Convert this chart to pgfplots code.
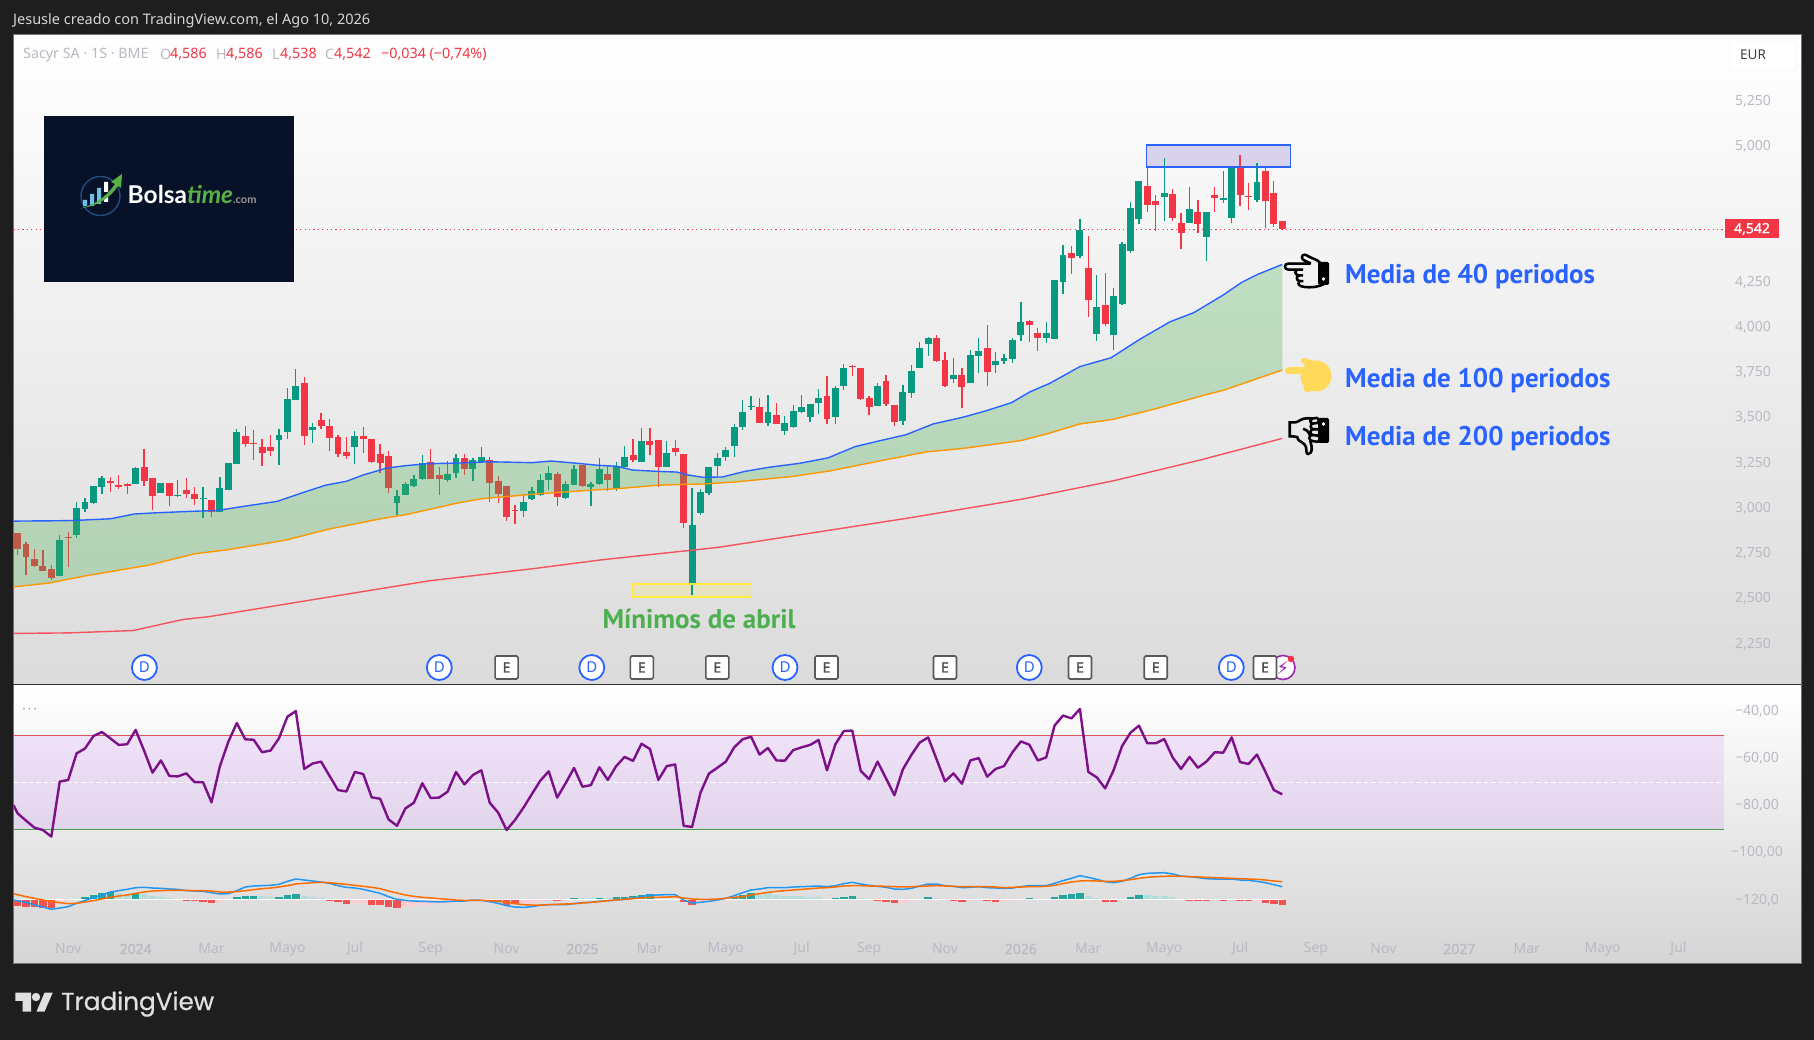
\documentclass[border=0pt]{standalone}
\usepackage{fontspec}
\setmainfont{Noto Sans}
\newfontfamily\labfont{PT Sans}
\newfontfamily\tvfont[FakeBold=0.6]{Poppins}
\newfontfamily\emojifont[FakeBold=3]{Noto Emoji}
\newfontfamily\symfont{DejaVu Sans}
\newfontfamily\logofont{Lato}
\newfontfamily\boldn[FakeBold=1.2]{Noto Sans}
\usepackage{pgfplots}
\usepackage{pgfplotstable}
\pgfplotsset{compat=1.18}
\definecolor{bgdark}{HTML}{1E1E1E}
\definecolor{cg}{HTML}{089981}
\definecolor{cr}{HTML}{F23645}
\definecolor{tk}{HTML}{B8BAC4}
\definecolor{mab}{HTML}{2962FF}
\definecolor{mao}{HTML}{FF9800}
\definecolor{mar}{HTML}{F7525F}
\definecolor{pur}{HTML}{7B1088}
\definecolor{hsr}{HTML}{F25252}
\definecolor{hsp}{HTML}{FFCDD2}
\definecolor{hsg}{HTML}{26A69A}
\definecolor{hsl}{HTML}{B2DFDB}
\definecolor{fillg}{HTML}{4CAF50}
\definecolor{bandf}{HTML}{BA64FD}
\definecolor{bandt}{HTML}{E2525A}
\definecolor{bandb}{HTML}{4CA050}
\definecolor{mcdb}{HTML}{2196F3}
\definecolor{mcdo}{HTML}{FF6D00}
\definecolor{logobg}{HTML}{071229}
\definecolor{logoc}{HTML}{234B7D}
\definecolor{logob}{HTML}{6EBEE6}
\definecolor{logog}{HTML}{5AAF46}
\definecolor{boltc}{HTML}{9C27B0}
\definecolor{yel}{HTML}{FFD95A}
\definecolor{zonev}{HTML}{D9D2EC}
\definecolor{zoney}{HTML}{FFEB3B}
\pgfplotstableread{
i t b h l
0 2.863 2.775 2.863 2.742
1 2.802 2.730 2.815 2.631
2 2.719 2.681 2.775 2.675
3 2.681 2.653 2.769 2.653
4 2.664 2.614 2.686 2.603
6 2.841 2.836 2.869 2.675
11 3.151 3.140 3.173 3.090
12 3.128 3.117 3.184 3.106
13 3.134 3.123 3.140 3.079
15 3.228 3.151 3.327 3.123
16 3.167 3.068 3.167 2.990
18 3.140 3.068 3.140 3.012
20 3.101 3.079 3.167 3.057
21 3.079 3.051 3.117 3.018
23 3.046 2.979 3.046 2.952
27 3.399 3.355 3.455 3.339
28 3.361 3.355 3.432 3.267
29 3.339 3.305 3.383 3.234
30 3.339 3.316 3.405 3.289
34 3.692 3.399 3.725 3.350
36 3.488 3.455 3.526 3.438
37 3.455 3.388 3.493 3.316
38 3.394 3.300 3.405 3.283
39 3.311 3.289 3.394 3.272
41 3.399 3.383 3.449 3.305
42 3.383 3.256 3.383 3.250
43 3.300 3.250 3.355 3.195
44 3.289 3.112 3.316 3.084
49 3.256 3.162 3.327 3.162
50 3.184 3.162 3.228 3.073
53 3.278 3.217 3.300 3.184
56 3.267 3.140 3.283 3.034
57 3.151 3.079 3.178 3.029
58 3.123 2.952 3.123 2.929
59 2.990 2.985 3.018 2.913
64 3.189 3.062 3.200 3.012
67 3.239 3.123 3.239 3.117
70 3.189 3.156 3.239 3.095
73 3.294 3.267 3.383 3.256
75 3.372 3.350 3.444 3.294
76 3.377 3.228 3.377 3.117
78 3.333 3.311 3.377 3.289
79 3.300 2.918 3.300 2.891
88 3.560 3.471 3.609 3.471
90 3.515 3.466 3.582 3.466
96 3.620 3.493 3.731 3.466
99 3.786 3.783 3.790 3.731
100 3.775 3.604 3.775 3.598
101 3.609 3.560 3.620 3.515
103 3.703 3.576 3.737 3.565
104 3.571 3.477 3.571 3.455
109 3.941 3.814 3.958 3.808
110 3.819 3.676 3.864 3.670
112 3.737 3.670 3.775 3.554
115 3.886 3.753 4.013 3.676
120 4.035 4.013 4.041 3.919
121 3.969 3.941 3.996 3.869
125 4.411 4.383 4.450 4.295
127 4.328 4.151 4.505 4.057
129 4.124 4.019 4.301 4.008
134 4.781 4.676 4.892 4.638
135 4.699 4.676 4.732 4.533
137 4.737 4.605 4.765 4.588
138 4.577 4.522 4.632 4.433
140 4.638 4.571 4.704 4.522
142 4.732 4.715 4.776 4.638
145 4.892 4.732 4.953 4.671
146 4.726 4.721 4.798 4.649
148 4.864 4.699 4.892 4.549
149 4.743 4.571 4.809 4.555
150 4.586 4.542 4.586 4.538
}\redc
\pgfplotstableread{
i t b h l
5 2.824 2.625 2.852 2.625
7 3.001 2.852 3.034 2.836
8 3.034 2.996 3.057 2.979
9 3.123 3.029 3.123 3.023
10 3.167 3.117 3.178 3.079
14 3.222 3.134 3.228 3.134
17 3.140 3.084 3.140 3.084
19 3.073 3.068 3.156 3.062
22 3.057 3.051 3.117 2.946
24 3.112 2.979 3.173 2.979
25 3.250 3.101 3.250 3.101
26 3.421 3.245 3.438 3.245
31 3.405 3.377 3.438 3.239
32 3.604 3.421 3.665 3.383
33 3.676 3.598 3.770 3.598
35 3.449 3.432 3.471 3.361
40 3.399 3.339 3.427 3.245
45 3.068 3.029 3.101 2.963
46 3.134 3.073 3.145 3.073
47 3.162 3.123 3.184 3.117
48 3.250 3.162 3.294 3.156
51 3.189 3.156 3.261 3.145
52 3.278 3.195 3.300 3.167
54 3.267 3.217 3.278 3.151
55 3.283 3.256 3.339 3.256
60 3.034 2.985 3.079 2.952
61 3.095 3.051 3.117 3.046
62 3.156 3.073 3.189 3.068
63 3.195 3.156 3.234 3.101
65 3.134 3.057 3.151 3.051
66 3.217 3.128 3.239 3.128
68 3.134 3.117 3.145 3.012
69 3.217 3.134 3.278 3.128
71 3.234 3.106 3.256 3.095
72 3.283 3.228 3.344 3.228
74 3.372 3.256 3.444 3.256
77 3.305 3.228 3.372 3.228
80 2.907 2.576 3.112 2.520
81 3.090 2.974 3.106 2.963
82 3.228 3.084 3.228 3.073
83 3.278 3.234 3.305 3.178
84 3.322 3.283 3.339 3.261
85 3.449 3.344 3.466 3.283
86 3.532 3.449 3.598 3.432
87 3.565 3.560 3.620 3.543
89 3.532 3.471 3.626 3.455
91 3.471 3.427 3.510 3.405
92 3.538 3.449 3.571 3.444
93 3.560 3.532 3.626 3.526
94 3.576 3.504 3.576 3.477
95 3.609 3.582 3.659 3.521
97 3.665 3.504 3.676 3.466
98 3.775 3.676 3.797 3.654
102 3.676 3.565 3.692 3.565
105 3.643 3.482 3.681 3.460
106 3.759 3.637 3.792 3.609
107 3.886 3.775 3.919 3.775
108 3.941 3.908 3.948 3.842
111 3.737 3.714 3.830 3.692
113 3.847 3.692 3.875 3.692
114 3.869 3.842 3.941 3.748
116 3.814 3.792 3.864 3.748
117 3.831 3.814 3.853 3.798
118 3.930 3.825 3.941 3.803
119 4.030 3.958 4.140 3.925
122 3.969 3.941 4.030 3.914
123 4.262 3.936 4.262 3.936
124 4.400 4.251 4.455 4.184
126 4.538 4.395 4.599 4.383
128 4.113 3.963 4.289 3.925
130 4.173 3.958 4.218 3.875
131 4.461 4.129 4.472 4.124
132 4.660 4.422 4.693 4.411
133 4.809 4.599 4.809 4.571
136 4.743 4.721 4.936 4.588
139 4.654 4.577 4.776 4.577
141 4.638 4.500 4.638 4.367
143 4.715 4.704 4.864 4.687
144 4.892 4.605 4.898 4.577
147 4.804 4.704 4.909 4.693
}\greenc
\pgfplotstableread{
i v
-0.49 2.929
5.08 2.931
7 2.933
11.07 2.942
13.8 2.968
16.07 2.974
20.6 2.983
23.8 2.988
26.05 3.005
30.8 3.038
33.8 3.086
36.5 3.127
39 3.149
41 3.184
43.76 3.222
46 3.235
48.5 3.246
52.4 3.250
56 3.257
61 3.252
63.3 3.261
66 3.250
69 3.237
71.1 3.232
72.96 3.211
75.9 3.204
78.2 3.200
79.5 3.184
81.3 3.171
83.6 3.173
86.3 3.204
89.05 3.226
92.7 3.248
96.1 3.278
99.3 3.340
101.8 3.368
105.4 3.407
108.6 3.466
112.2 3.504
114.9 3.539
117.9 3.584
120.1 3.644
122.4 3.690
126 3.783
129.7 3.832
133.1 3.934
136.7 4.031
139.5 4.081
143 4.179
145.2 4.249
147 4.291
150 4.348
}\bluema
\pgfplotstableread{
i v
-0.49 2.565
3.81 2.587
7.9 2.625
15.6 2.686
21.06 2.749
24.7 2.769
31.7 2.823
36.95 2.885
43.3 2.944
46 2.964
52.4 3.031
55.1 3.053
61.5 3.079
69.08 3.103
71.1 3.108
75.9 3.127
79.07 3.132
81.3 3.134
85 3.145
91.8 3.175
96.3 3.206
102.2 3.261
107.7 3.311
112.2 3.331
119 3.374
122 3.410
126 3.466
129.9 3.491
134.9 3.549
140.5 3.622
143 3.652
150 3.764
}\orangema
\pgfplotstableread{
i v
-0.49 2.929
5.08 2.931
7 2.933
11.07 2.942
13.8 2.968
16.07 2.974
20.6 2.983
23.8 2.988
26.05 3.005
30.8 3.038
33.8 3.086
36.5 3.127
39 3.149
41 3.184
43.76 3.222
46 3.235
48.5 3.246
52.4 3.250
56 3.257
61 3.252
63.3 3.261
66 3.250
69 3.237
71.1 3.232
72.96 3.211
75.9 3.204
78.2 3.200
79.5 3.184
81.3 3.171
83.6 3.173
86.3 3.204
89.05 3.226
92.7 3.248
96.1 3.278
99.3 3.340
101.8 3.368
105.4 3.407
108.6 3.466
112.2 3.504
114.9 3.539
117.9 3.584
120.1 3.644
122.4 3.690
126 3.783
129.7 3.832
133.1 3.934
136.7 4.031
139.5 4.081
143 4.179
145.2 4.249
147 4.291
150 4.348
150 3.764
143 3.652
140.5 3.622
134.9 3.549
129.9 3.491
126 3.466
122 3.410
119 3.374
112.2 3.331
107.7 3.311
102.2 3.261
96.3 3.206
91.8 3.175
85 3.145
81.3 3.134
79.07 3.132
75.9 3.127
71.1 3.108
69.08 3.103
61.5 3.079
55.1 3.053
52.4 3.031
46 2.964
43.3 2.944
36.95 2.885
31.7 2.823
24.7 2.769
21.06 2.749
15.6 2.686
7.9 2.625
3.81 2.587
-0.49 2.565
}\maband
\pgfplotstableread{
i v
-0.49 2.308
6.15 2.311
13.7 2.324
19.7 2.386
22.6 2.400
30.6 2.461
33.6 2.484
48.7 2.598
61.5 2.668
69.1 2.714
83.15 2.784
105.4 2.944
119 3.049
129.9 3.151
140.3 3.267
150 3.386
}\redma
\pgfplotstableread{
i r
-0.49 -79.7
0 -83.2
1 -86.3
2 -89.3
3 -90.3
4 -93.1
5 -69.7
6 -69.0
7 -57.7
8 -55.6
9 -50.3
10 -48.6
11 -51.3
12 -54.1
13 -53.8
14 -47.7
15 -56.5
16 -65.9
17 -60.7
18 -67.3
19 -67.5
20 -66.2
21 -69.9
22 -70.0
23 -78.5
24 -63.1
25 -52.7
26 -44.8
27 -51.7
28 -51.9
29 -57.2
30 -56.5
31 -51.3
32 -42.1
33 -39.7
34 -64.3
35 -62.0
36 -61.2
37 -67.3
38 -73.3
39 -73.9
40 -65.6
41 -66.5
42 -76.4
43 -77.0
44 -85.8
45 -88.5
46 -81.1
47 -78.7
48 -70.4
49 -76.7
50 -76.5
51 -74.0
52 -65.6
53 -70.9
54 -66.9
55 -64.9
56 -78.7
57 -82.9
58 -90.3
59 -86.0
60 -80.8
61 -75.0
62 -69.3
63 -65.3
64 -76.5
65 -70.4
66 -63.9
67 -71.9
68 -71.2
69 -63.6
70 -69.0
71 -63.1
72 -59.2
73 -60.9
74 -53.6
75 -55.8
76 -69.0
77 -63.1
78 -62.4
79 -88.5
80 -89.0
81 -74.4
82 -66.3
83 -63.8
84 -61.2
85 -55.1
86 -51.7
87 -50.6
88 -58.2
89 -55.4
90 -60.7
91 -60.8
92 -56.3
93 -55.1
94 -54.1
95 -52.0
96 -64.9
97 -53.8
98 -48.2
99 -48.0
100 -65.1
101 -68.7
102 -61.2
103 -68.3
104 -75.5
105 -64.5
106 -58.4
107 -53.1
108 -50.9
109 -60.2
110 -69.6
111 -66.2
112 -70.6
113 -60.7
114 -59.7
115 -67.6
116 -64.3
117 -63.1
118 -57.2
119 -52.6
120 -54.0
121 -60.7
122 -59.4
123 -45.8
124 -41.6
125 -42.8
126 -38.8
127 -65.6
128 -67.9
129 -72.6
130 -64.8
131 -54.6
132 -48.9
133 -45.9
134 -53.4
135 -53.4
136 -51.6
137 -59.4
138 -64.3
139 -59.2
140 -63.8
141 -61.2
142 -57.2
143 -57.4
144 -50.9
145 -61.4
146 -62.2
147 -58.2
148 -65.5
149 -73.3
150 -75.1
}\pctr
\pgfplotstableread{
i m s
-0.49 -1 18
0 -3 15
1 -8 9
2 -16 4
3 -22 -1
4 -29 -5
5 -25 -9
6 -21 -12
7 -11 -11
8 -2 -7
9 6 -3
10 14 2
11 23 7
12 27 11
13 31 14
14 36 19
15 37 23
16 35 26
17 34 27
18 32 28
19 31 28
20 27 28
21 26 27
22 25 27
23 21 26
24 17 23
25 18 23
26 27 24
27 38 27
28 41 30
29 42 33
30 43 35
31 46 38
32 55 42
33 62 47
34 59 49
35 56 51
36 53 52
37 49 51
38 42 48
39 37 46
40 35 43
41 31 40
42 25 37
43 19 33
44 9 26
45 1 20
46 -2 14
47 -4 10
48 -5 7
49 -6 5
50 -7 3
51 -6 1
52 -4 -1
53 -4 -2
54 -1 -2
55 -2 -2
56 -6 -3
57 -11 -5
58 -18 -8
59 -22 -12
60 -23 -15
61 -21 -16
62 -17 -16
63 -15 -15
64 -15 -14
65 -15 -13
66 -12 -12
67 -9 -10
68 -8 -8
69 -5 -6
70 -3 -3
71 -1 -1
72 1 1
73 4 3
74 9 5
75 14 7
76 14 7
77 15 8
78 15 9
79 -1 5
80 -10 2
81 -8 1
82 -5 1
83 -1 2
84 4 4
85 12 7
86 21 9
87 29 14
88 32 18
89 36 22
90 36 25
91 36 27
92 38 29
93 39 31
94 40 33
95 41 35
96 39 36
97 42 38
98 48 41
99 52 42
100 47 42
101 43 41
102 40 41
103 37 40
104 32 39
105 31 38
106 34 39
107 41 40
108 47 41
109 47 42
110 42 41
111 40 40
112 36 39
113 37 39
114 39 39
115 36 39
116 35 38
117 34 36
118 35 37
119 39 38
120 42 39
121 42 39
122 42 40
123 49 43
124 57 48
125 64 53
126 72 56
127 67 57
128 61 56
129 54 55
130 51 55
131 55 57
132 64 60
133 75 64
134 79 67
135 80 69
136 81 70
137 77 71
138 71 70
139 69 69
140 66 68
141 63 67
142 62 66
143 62 65
144 62 64
145 59 63
146 58 62
147 55 61
148 51 59
149 45 56
150 39 54
}\macdt
\begin{document}
\begin{tikzpicture}[x=1pt,y=1pt]
\fill[bgdark] (0,0) rectangle (1814,1040);
\begin{scope}[shift={(0,1040)},y=-1pt]
\shade[top color=white,bottom color=black!14] (13,34.5) rectangle (1801,684);
\shade[top color=white,bottom color=black!16.5] (13,685) rectangle (1801,964);
\draw[black!55,line width=1pt] (13,34.5) rectangle (1801,964);
\draw[black!80,line width=1.2pt] (13,684.5) -- (1801,684.5);
\end{scope}
% ---------- price pane
\begin{axis}[at={(13.5pt,356pt)},anchor=south west,scale only axis,width=1787.5pt,height=649.5pt,
 xmin=-0.486,xmax=211.53,ymin=2.0285,ymax=5.619,
 axis line style={draw=none},major tick length=0pt,xtick=\empty,
 ytick={2.25,2.5,2.75,3,3.25,3.5,3.75,4,4.25,5,5.25},
 yticklabels={{2,250},{2,500},{2,750},{3,000},{3,250},{3,500},{3,750},{4,000},{4,250},{5,000},{5,250}},
 yticklabel pos=right,
 yticklabel style={anchor=center,xshift=-48pt,text=tk,font=\fontsize{14}{16}\selectfont},
 clip=true]
\addplot[draw=cr,line width=1pt,dash pattern=on 1.2pt off 3.2pt,forget plot] coordinates {(-0.486,4.542)(2.9,4.542)};
\addplot[draw=cr,line width=1pt,dash pattern=on 1.2pt off 3.2pt,forget plot] coordinates {(33,4.542)(202.4,4.542)};
% candles
\addplot[draw=none,forget plot,error bars/.cd,y dir=both,y explicit,error mark=none,error bar style={draw=cg,line width=1.3pt}]
 table[x=i,y=l,y error plus expr=\thisrow{h}-\thisrow{l},y error minus expr=0]{\greenc};
\addplot[draw=none,forget plot,error bars/.cd,y dir=both,y explicit,error mark=none,error bar style={draw=cg,line width=6.9pt}]
 table[x=i,y=b,y error plus expr=\thisrow{t}-\thisrow{b},y error minus expr=0]{\greenc};
\addplot[draw=none,forget plot,error bars/.cd,y dir=both,y explicit,error mark=none,error bar style={draw=cr,line width=1.3pt}]
 table[x=i,y=l,y error plus expr=\thisrow{h}-\thisrow{l},y error minus expr=0]{\redc};
\addplot[draw=none,forget plot,error bars/.cd,y dir=both,y explicit,error mark=none,error bar style={draw=cr,line width=6.9pt}]
 table[x=i,y=b,y error plus expr=\thisrow{t}-\thisrow{b},y error minus expr=0]{\redc};
% the band between the 40 and the 100 period averages, then the averages
\addplot[fill=fillg,fill opacity=0.3,draw=none,forget plot] table[x=i,y=v]{\maband} -- cycle;
\addplot[mab,line width=1.4pt,forget plot] table[x=i,y=v]{\bluema};
\addplot[mao,line width=1.4pt,forget plot] table[x=i,y=v]{\orangema};
\addplot[mar,line width=1.4pt,forget plot] table[x=i,y=v]{\redma};
% zones
\draw[draw=mab,line width=1.6pt,fill=zonev] (axis cs:133.9,5.008) rectangle (axis cs:151,4.885);
\addplot[cr,line width=1.3pt,forget plot] coordinates {(145,4.953)(145,4.885)};
\addplot[cg,line width=1.3pt,forget plot] coordinates {(136,4.936)(136,4.885)};
\addplot[cg,line width=1.3pt,forget plot] coordinates {(147,4.909)(147,4.885)};
\addplot[cr,line width=1.3pt,forget plot] coordinates {(148,4.892)(148,4.885)};
\draw[draw=zoney,line width=1.6pt,fill=zoney,fill opacity=0.2] (axis cs:73,2.581) rectangle (axis cs:87.05,2.511);
\addplot[cg,line width=1.3pt,forget plot] coordinates {(80,2.576)(80,2.52)};
\end{axis}
% ---------- oscillator pane
\begin{axis}[at={(13.5pt,76pt)},anchor=south west,scale only axis,width=1787.5pt,height=279.3pt,
 xmin=-0.486,xmax=211.53,ymin=-147.3,ymax=-28.47,
 axis line style={draw=none},major tick length=0pt,
 xtick={6,14,23,32,40,49,58,67,75,84,93,101,110,119,127,136,145,154,162,171,179,188,197},
 xticklabels={Nov,{\boldn 2024},Mar,Mayo,Jul,Sep,Nov,{\boldn 2025},Mar,Mayo,Jul,Sep,Nov,{\boldn 2026},Mar,Mayo,Jul,Sep,Nov,{\boldn 2027},Mar,Mayo,Jul},
 xticklabel style={anchor=center,yshift=15pt,text=tk,font=\fontsize{14}{16}\selectfont},
 ytick={-40,-60,-80,-100,-120},
 yticklabels={{−40,00},{−60,00},{−80,00},{−100,00},{−120,0}},
 yticklabel pos=right,
 yticklabel style={anchor=center,xshift=-44pt,text=tk,font=\fontsize{14}{16}\selectfont},
 clip=true]
\fill[bandf,fill opacity=0.15] (axis cs:-0.486,-50) rectangle (axis cs:202.4,-90);
\addplot[draw=bandt,line width=1pt,forget plot] coordinates {(-0.486,-50)(202.4,-50)};
\addplot[draw=bandb,line width=1pt,forget plot] coordinates {(-0.486,-90)(202.4,-90)};
\addplot[white,line width=1pt,dash pattern=on 4.5pt off 3pt,forget plot] coordinates {(-0.486,-70)(202.4,-70)};
\addplot[pur,line width=2.4pt,line join=round,forget plot] table[x=i,y=r]{\pctr};
\end{axis}
\begin{axis}[at={(13.5pt,76pt)},anchor=south west,scale only axis,width=1787.5pt,height=279.3pt,
 xmin=-0.486,xmax=211.53,ymin=-193,ymax=645,hide axis,clip=true]
\addplot[ycomb,hsr,line width=7.4pt,forget plot] coordinates {(0,-19)(1,-22)(2,-21)(3,-24)(4,-26)(20,-3)(21,-3)(22,-6)(23,-9)(37,-2)(38,-6)(39,-12)(42,-16)(43,-16)(44,-21)(45,-24)(56,-3)(57,-6)(58,-15)(59,-14)(64,-2)(79,-6)(80,-16)(102,-3)(103,-7)(104,-10)(111,-3)(112,-7)(115,-3)(116,-6)(129,-7)(130,-7)(139,-3)(140,-5)(141,-5)(143,-5)(145,-4)(146,-4)(148,-10)(149,-13)(150,-16)};
\addplot[ycomb,hsp,line width=7.4pt,forget plot] coordinates {(5,-5)(6,-3)(24,-6)(40,-11)(41,-11)(46,-21)(47,-19)(48,-17)(49,-15)(50,-14)(51,-9)(60,-11)(61,-9)(62,-6)(63,-4)(81,-11)(82,-8)(83,-4)(105,-9)(106,-5)(113,-3)(114,-3)(117,-3)(118,-3)(142,-3)(144,-3)(147,-3)};
\addplot[ycomb,hsg,line width=7.4pt,forget plot] coordinates {(7,3)(8,7)(9,13)(10,19)(11,22)(14,19)(25,2)(26,7)(27,11)(28,11)(31,8)(32,13)(33,17)(65,3)(66,5)(69,5)(71,8)(72,8)(73,11)(74,14)(75,16)(85,7)(86,14)(87,20)(97,5)(98,7)(99,11)(108,8)(120,5)(123,8)(124,14)(125,17)(126,20)(132,8)(133,14)};
\addplot[ycomb,hsl,line width=7.4pt,forget plot] coordinates {(12,19)(13,14)(15,17)(16,11)(17,8)(18,4)(19,1)(29,11)(30,7)(34,11)(35,8)(36,4)(52,1)(53,1)(54,1)(55,1)(67,5)(68,5)(70,4)(77,3)(78,1)(84,2)(88,15)(89,19)(90,15)(91,11)(92,11)(93,11)(94,8)(95,7)(96,3)(100,5)(101,1)(107,1)(109,5)(110,1)(119,1)(121,2)(122,2)(127,11)(128,4)(131,1)(134,14)(135,11)(136,11)(137,8)(138,2)};
\addplot[white,line width=1.5pt,forget plot] coordinates {(-0.486,0)(150,0)};
\addplot[mcdb,line width=1.5pt,forget plot] table[x=i,y=m]{\macdt};
\addplot[mcdo,line width=1.5pt,forget plot] table[x=i,y=s]{\macdt};
\end{axis}
% ---------- texts and annotations, y measured from the top
\begin{scope}[shift={(0,1040)},y=-1pt]
\node[anchor=west,inner sep=0,text=black!16,font=\fontsize{14.5}{16}\selectfont] at (13,21) {Jesusle creado con TradingView.com, el Ago 10, 2026};
\tikzset{lg/.style={anchor=west,inner sep=0,font=\fontsize{14.3}{16}\selectfont}}
\node[lg,text=tk] at (23,54.7) {Sacyr SA · 1S · BME};
\node[lg,text=tk] at (160,54.7) {O}; \node[lg,text=cr] at (170,54.7) {4,586};
\node[lg,text=tk] at (216,54.7) {H}; \node[lg,text=cr] at (226,54.7) {4,586};
\node[lg,text=tk] at (272,54.7) {L}; \node[lg,text=cr] at (280,54.7) {4,538};
\node[lg,text=tk] at (325,54.7) {C}; \node[lg,text=cr] at (334,54.7) {4,542};
\node[lg,text=cr] at (381,54.7) {−0,034 (−0,74\%)};
% price tag and EUR
\fill[cr] (1725,219.5) rectangle (1779,238);
\node[inner sep=0,text=white,font=\boldn\fontsize{14}{16}\selectfont] at (1752,229) {4,542};
\draw[black!8,fill=white,rounded corners=2pt] (1730,41) rectangle (1796,70);
\node[inner sep=0,text=black!75,font=\fontsize{13.5}{16}\selectfont] at (1753,54.5) {EUR};
% logo
\fill[logobg] (44,116) rectangle (294,282);
\draw[logoc,line width=1.4pt] (100.5,196) circle (19.5);
\fill[logob] (83,200) rectangle (87,206) (90,194) rectangle (94,206) (97,188) rectangle (101,204);
\fill[white] (104,182) rectangle (108,192) (104,196) rectangle (108,202);
\fill[logog] (80,208.5) .. controls (98,204) and (108,194) .. (115,184) -- (111,182) -- (122,174) -- (121,188) -- (118,186) .. controls (110,198) and (98,206) .. cycle;
\node[anchor=west,inner sep=0,font=\logofont\bfseries] at (127.5,195) {\fontsize{24.5}{26}\selectfont\color{white}Bolsa\color{logog}\itshape time\fontsize{11}{12}\selectfont\upshape\color{black!40}.com};
% annotations
\node[inner sep=0,text=fillg,font=\labfont\fontsize{27}{30}\selectfont\bfseries] at (699,619) {Mínimos de abril};
\tikzset{med/.style={anchor=west,inner sep=0,text=mab,font=\labfont\fontsize{27}{30}\selectfont\bfseries}}
\node[med] at (1345,277) {Media de 40 periodos};
\node[med] at (1345,381) {Media de 100 periodos};
\node[med] at (1345,439) {Media de 200 periodos};
\node[inner sep=0,font=\emojifont\fontsize{37}{40}\selectfont] at (1306,271) {👈};
\fill[black,rounded corners=1.5pt] (1318,262) rectangle (1329,285);
\fill[white] (1323.5,279) circle (1.8);
\node[inner sep=0,font=\emojifont\fontsize{37}{40}\selectfont] at (1306,436) {👎};
\fill[black,rounded corners=1.5pt] (1318,418) rectangle (1329,443);
\fill[white] (1323.5,424) circle (1.8);
\draw[yel,line width=7pt,line cap=round] (1288.5,371) -- (1316,371);
\draw[yel,line width=6pt,line cap=round] (1304,361) -- (1320,366);
\fill[yel] (1316,376) circle (15.5);
\fill[yel] (1306,382) circle (4.5) (1307.5,388.5) circle (4);
% badges
\tikzset{bd/.style={circle,draw=mab,line width=1.8pt,fill=white,minimum size=25pt,inner sep=0,text=mab,font=\fontsize{15}{16}\selectfont},
 be/.style={draw=black!65,line width=1.6pt,rounded corners=1.5pt,fill=white,minimum size=23pt,inner sep=0,text=black!70,font=\boldn\fontsize{14}{16}\selectfont}}
\foreach \x in {144.4,439.3,591.8,785,1029.3,1231.3} {\node[bd] at (\x,667.5) {D};}
\draw[boltc,line width=1.6pt,fill=white] (1283,667.5) circle (12);
\node[inner sep=0,text=boltc,font=\symfont\fontsize{18}{20}\selectfont] at (1283,668) {⚡};
\fill[cr] (1291,659) circle (3.3);
\foreach \x in {506.6,641.8,717.3,826.5,945,1080,1155.7,1265} {\node[be] at (\x,667.5) {E};}
\foreach \x in {24,29.5,35} {\fill[black!35] (\x,708.7) circle (1);}
% TradingView logo
\fill[black!12] (15.3,992.7) -- (31,992.7) -- (31,1011.7) -- (22.5,1011.7) -- (22.5,1001) -- (15.3,1001) -- cycle;
\fill[black!12] (36,997) circle (4.2);
\fill[black!12] (36.5,1011.7) -- (44.5,992.7) -- (52.7,992.7) -- (44.5,1011.7) -- cycle;
\node[anchor=west,inner sep=0,text=black!12,font=\tvfont\fontsize{24.7}{28}\selectfont] at (61,1004) {TradingView};
\end{scope}
\end{tikzpicture}
\end{document}
